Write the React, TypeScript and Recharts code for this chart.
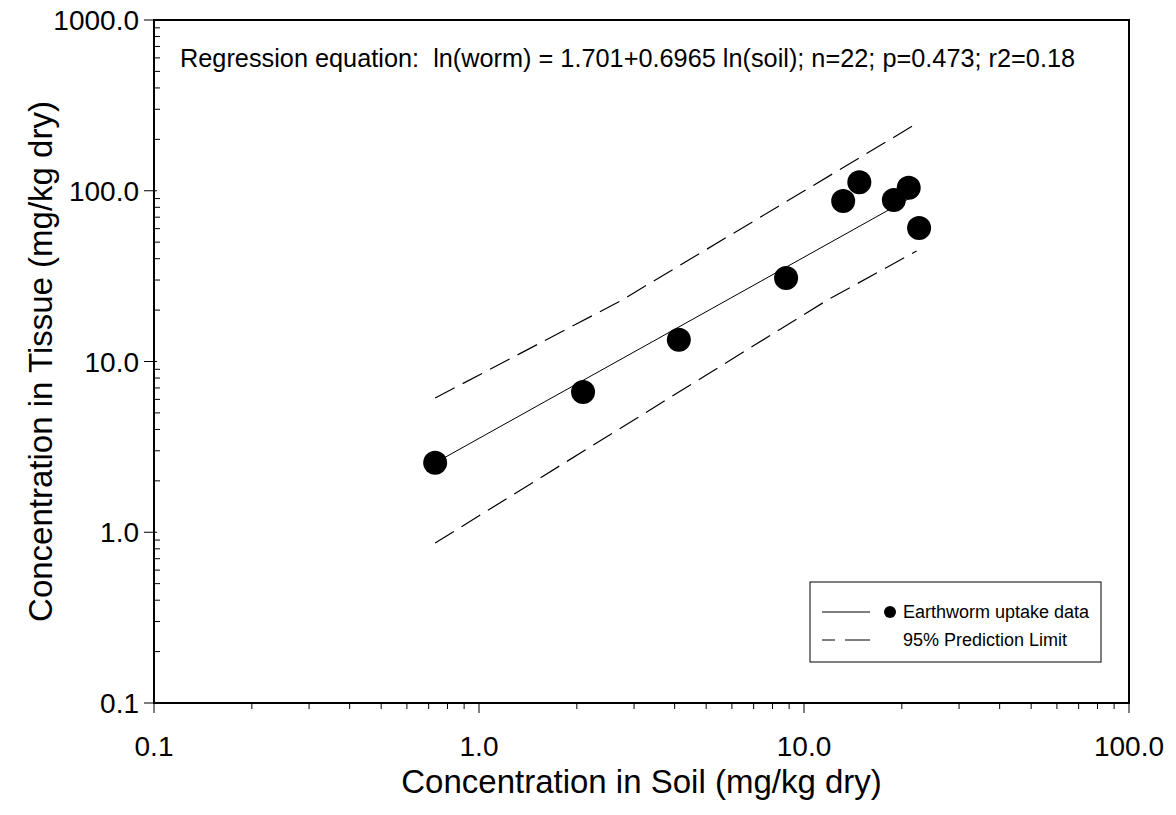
import React from "react";
import { ScatterChart, Scatter, XAxis, YAxis, ReferenceArea } from "recharts";

// measured points (soil vs tissue, mg/kg dry)
const soilConc = [0.733, 2.09, 4.12, 8.81, 13.2, 14.8, 18.9, 21.0, 22.6];
const tissueConc = [2.55, 6.63, 13.4, 30.8, 87.1, 112, 88.3, 104, 60.5];

// fitted regression line
const fitSoil = [0.733, 22.6];
const fitTissue = [2.55, 97.0];

// 95% prediction limits
const upperSoil = [0.733, 2.72, 22.1];
const upperTissue = [6.11, 22.6, 246];
const lowerSoil = [0.733, 11.8, 22.2];
const lowerTissue = [0.865, 22.9, 44.4];

// axis ticks
const xMajor = [0.1, 1, 10, 100];
const xMinor = [0.2, 0.3, 0.4, 0.5, 0.6, 0.7, 0.8, 0.9, 2, 3, 4, 5, 6, 7, 8, 9, 20, 30, 40, 50, 60, 70, 80, 90];
const yMajor = [0.1, 1, 10, 100, 1000];
const yMinor = [
  0.2, 0.3, 0.4, 0.5, 0.6, 0.7, 0.8, 0.9, 2, 3, 4, 5, 6, 7, 8, 9, 20, 30, 40, 50, 60, 70, 80, 90, 200, 300, 400, 500,
  600, 700, 800, 900,
];

const FONT = '"Liberation Sans", Arial, sans-serif';

const toPairs = (xs: number[], ys: number[]) => xs.map((x, i) => ({ x, y: ys[i] }));

const points = toPairs(soilConc, tissueConc);
const fitLine = toPairs(fitSoil, fitTissue);
const upperLine = toPairs(upperSoil, upperTissue);
const lowerLine = toPairs(lowerSoil, lowerTissue);

const isMajor = (list: number[], v: number) => list.some((m) => Math.abs(m - v) < 1e-9);

function XTick(props: any) {
  const { x, y, payload } = props;
  const major = isMajor(xMajor, payload.value);
  return (
    <g>
      <line x1={x} x2={x} y1={y} y2={y + (major ? 10 : 6)} stroke="#000" strokeWidth={1} />
      {major && (
        <text x={x} y={y + 53} textAnchor="middle" fontSize={28} fontFamily={FONT} fill="#000">
          {payload.value.toFixed(1)}
        </text>
      )}
    </g>
  );
}

function YTick(props: any) {
  const { x, y, payload } = props;
  const major = isMajor(yMajor, payload.value);
  return (
    <g>
      {major ? (
        <line x1={x - 10} x2={x + 3} y1={y} y2={y} stroke="#000" strokeWidth={1} />
      ) : (
        <line x1={x} x2={x + 6} y1={y} y2={y} stroke="#000" strokeWidth={1} />
      )}
      {major && (
        <text x={x - 15} y={y + 10} textAnchor="end" fontSize={28} fontFamily={FONT} fill="#000">
          {payload.value.toFixed(1)}
        </text>
      )}
    </g>
  );
}

const Dot = (props: any) => <circle cx={props.cx} cy={props.cy} r={12} fill="#000" />;
const NoShape = () => <g />;

export default function App() {
  // shifted up by the body margin so the top tick label has room inside the svg
  return (
    <div style={{ position: "relative", width: 1160, height: 808, marginTop: -8, fontFamily: FONT }}>
      <ScatterChart width={1160} height={808} margin={{ top: 20, right: 39, left: 0, bottom: 0 }}>
        <XAxis
          type="number"
          dataKey="x"
          scale="log"
          domain={[0.1, 100]}
          allowDataOverflow
          ticks={[...xMajor, ...xMinor]}
          interval={0}
          height={105}
          tickSize={0}
          tickMargin={0}
          tickLine={false}
          axisLine={{ stroke: "#000", strokeWidth: 2 }}
          tick={<XTick />}
          label={{
            content: (p: any) => {
              const vb = p.viewBox;
              return (
                <text x={vb.x + vb.width / 2} y={vb.y + 90} textAnchor="middle" fontSize={33} fontFamily={FONT} fill="#000">
                  Concentration in Soil (mg/kg dry)
                </text>
              );
            },
          }}
        />
        <YAxis
          type="number"
          dataKey="y"
          scale="log"
          domain={[0.1, 1000]}
          allowDataOverflow
          ticks={[...yMajor, ...yMinor]}
          interval={0}
          width={146}
          tickSize={0}
          tickMargin={0}
          tickLine={false}
          axisLine={{ stroke: "#000", strokeWidth: 2 }}
          tick={<YTick />}
          label={{
            content: (p: any) => {
              const vb = p.viewBox;
              const cy = vb.y + vb.height / 2;
              return (
                <text
                  x={44}
                  y={cy}
                  transform={`rotate(-90, 44, ${cy})`}
                  textAnchor="middle"
                  fontSize={33}
                  fontFamily={FONT}
                  fill="#000"
                >
                  Concentration in Tissue (mg/kg dry)
                </text>
              );
            },
          }}
        />
        <ReferenceArea x1={0.1} x2={100} y1={0.1} y2={1000} fill="none" stroke="#000" strokeWidth={2} />
        <Scatter
          data={upperLine}
          line={{ stroke: "#000", strokeWidth: 1.2, strokeDasharray: "22 9" }}
          shape={NoShape}
          isAnimationActive={false}
        />
        <Scatter
          data={lowerLine}
          line={{ stroke: "#000", strokeWidth: 1.2, strokeDasharray: "22 9" }}
          shape={NoShape}
          isAnimationActive={false}
        />
        <Scatter data={fitLine} line={{ stroke: "#000", strokeWidth: 1 }} shape={NoShape} isAnimationActive={false} />
        <Scatter data={points} shape={Dot} isAnimationActive={false} />
      </ScatterChart>

      <div
        style={{
          position: "absolute",
          left: 172,
          top: 46,
          fontSize: 25.3,
          lineHeight: "25px",
          whiteSpace: "pre",
          color: "#000",
        }}
      >
        {"Regression equation:  ln(worm) = 1.701+0.6965 ln(soil); n=22; p=0.473; r2=0.18"}
      </div>

      <svg width={294} height={83} style={{ position: "absolute", left: 801, top: 581 }}>
        <rect x={1} y={1} width={291} height={80} fill="#fff" stroke="#000" strokeWidth={1} />
        <line x1={13} x2={61} y1={31} y2={31} stroke="#000" strokeWidth={1} />
        <circle cx={81} cy={31} r={6} fill="#000" />
        <text x={94} y={37} fontSize={18} fontFamily={FONT} fill="#000">
          Earthworm uptake data
        </text>
        <line x1={13} x2={61} y1={59} y2={59} stroke="#000" strokeWidth={1} strokeDasharray="13 10 25" />
        <text x={94} y={65} fontSize={18} fontFamily={FONT} fill="#000">
          95% Prediction Limit
        </text>
      </svg>
    </div>
  );
}
